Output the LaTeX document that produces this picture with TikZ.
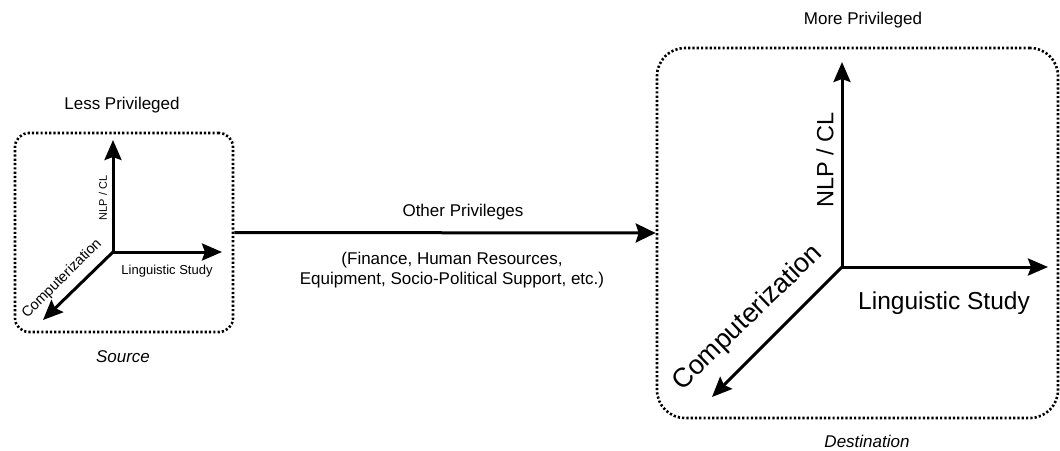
\documentclass[tikz,border=0pt]{standalone}
\usepackage{fontspec}
\setmainfont{Liberation Sans}
\usetikzlibrary{arrows.meta}
\tikzset{
  region/.style={draw, line width=2.6pt, dash pattern=on 2.2pt off 2.1pt,
    rounded corners=#1, inner sep=0pt},
  axis/.style={line width=3pt, -{Stealth[length=20pt,width=17pt,inset=3pt]}},
  link/.style={line width=3pt, -{Stealth[length=20pt,width=19pt,inset=3pt]}},
  lbl/.style={inner sep=0pt, font=\fontsize{17}{20.4}\selectfont, align=center},
  smallax/.style={inner sep=0pt, font=\fontsize{#1}{#1}\selectfont},
  bigax/.style={inner sep=0pt, font=\fontsize{#1}{#1}\selectfont}
}
\begin{document}
\begin{tikzpicture}[x=1pt,y=-1pt]
\useasboundingbox (0,0) rectangle (1060,450);
% regions
\node[region=14pt, minimum width=218pt, minimum height=199pt] (lbox) at (124,232.5) {};
\node[region=28pt, minimum width=401pt, minimum height=370pt] (rbox) at (857.5,233) {};
% left axes
\coordinate (lo) at (113,252);
\coordinate (lup) at (113,140);
\coordinate (lright) at (222,252);
\coordinate (ldiag) at (43,320);
\draw[axis] (lo) -- (lup);
\draw[axis] (lo) -- (lright);
\draw[axis] (lo) -- (ldiag);
% right axes
\coordinate (ro) at (842,267);
\coordinate (rup) at (842,62);
\coordinate (rright) at (1048,267);
\coordinate (rdiag) at (712,397);
\draw[axis] (ro) -- (rup);
\draw[axis] (ro) -- (rright);
\draw[axis] (ro) -- (rdiag);
% link
\draw[link] (lbox.east) -- (rbox.west);
% labels
\node[lbl] (less) at (122,105) {Less Privileged};
\node[lbl, font=\fontsize{17}{20.4}\selectfont\itshape] (src) at (123,357) {Source};
\node[lbl] (more) at (863,20) {More Privileged};
\node[lbl, font=\fontsize{17}{20.4}\selectfont\itshape] (dst) at (867,441) {Destination};
\node[lbl] (other) at (463,212) {Other Privileges};
\node[lbl] (paren) at (452,270) {(Finance, Human Resources,\\Equipment, Socio-Political Support, etc.)};
% left axis labels
\node[smallax=13] (lling) at (167,271) {Linguistic Study};
\node[smallax=11, rotate=90] (lnlp) at (103,198) {NLP / CL};
\node[smallax=14.5, rotate=45] (lcomp) at (62,279) {Computerization};
% right axis labels
\node[bigax=24.5] (rling) at (944,303) {Linguistic Study};
\node[bigax=23.5, rotate=90] (rnlp) at (825,160) {NLP / CL};
\node[bigax=27, rotate=44] (rcomp) at (748,318) {Computerization};
\end{tikzpicture}
\end{document}
